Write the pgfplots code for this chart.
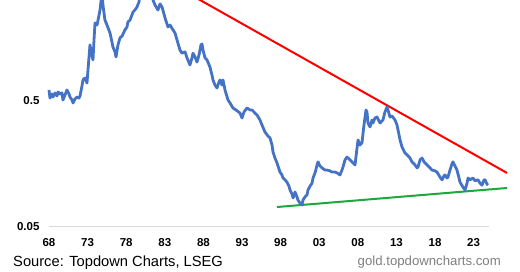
\documentclass[border=0pt]{standalone}
\usepackage{pgfplots}
\pgfplotsset{compat=1.18}
\usepackage{fontspec}
\setmainfont{Liberation Sans}
\definecolor{lineblue}{HTML}{4472C4}
\definecolor{linered}{HTML}{FF0000}
\definecolor{linegreen}{HTML}{1EA83C}
\definecolor{axgray}{HTML}{D9D9D9}
\definecolor{txtgray}{HTML}{7F7F7F}
\begin{document}
\begin{tikzpicture}
\useasboundingbox (0,0) rectangle (520pt,272pt);
\begin{axis}[
  at={(49pt,45.3pt)}, anchor=south west,
  scale only axis, width=471pt, height=226.7pt,
  xmin=1968, xmax=2029.01,
  ymode=log, ymin=0.05, ymax=3.18,
  clip=false,
  axis line style={draw=none},
  major tick length=0pt, minor tick length=0pt,
  yminorticks=false, xminorticks=false,
  tick style={draw=none},
  xtick pos=bottom, ytick pos=left,
  xtick={1968,1973,1978,1983,1988,1993,1998,2003,2008,2013,2018,2023},
  xticklabels={68,73,78,83,88,93,98,03,08,13,18,23},
  ytick={0.05,0.5},
  yticklabels={0.05,0.5},
  /pgf/number format/assume math mode=true,
  ticklabel style={font=\fontsize{11.5}{13}\selectfont\bfseries},
  xticklabel style={yshift=-8.5pt},
  yticklabel style={xshift=-6pt},
]
\addplot[color=axgray, line width=1.5pt, forget plot] coordinates {(1968,0.05) (2025,0.05)};
\addplot[color=linered, line width=2pt] coordinates {(1984.97,3.91) (2027.33,0.1338)};
\addplot[color=linegreen, line width=2pt] coordinates {(1997.53,0.0717) (2027.33,0.1016)};
\addplot[color=lineblue, line width=2.8pt, line join=round] table {
x y
1968.00 0.612
1968.13 0.528
1968.39 0.568
1968.52 0.538
1968.78 0.579
1969.04 0.548
1969.17 0.590
1969.42 0.568
1969.68 0.579
1969.81 0.509
1970.07 0.558
1970.33 0.612
1970.59 0.568
1970.72 0.538
1970.98 0.509
1971.11 0.482
1971.37 0.519
1971.63 0.538
1971.89 0.528
1972.02 0.548
1972.27 0.658
1972.40 0.735
1972.66 0.762
1972.92 0.695
1973.05 0.882
1973.31 1.40
1973.44 1.23
1973.70 1.06
1973.83 1.53
1973.96 2.09
1974.22 2.01
1974.35 2.20
1974.61 2.65
1974.87 3.68
1974.99 2.90
1975.25 2.20
1975.51 2.01
1975.90 1.74
1976.16 1.47
1976.29 1.34
1976.55 1.23
1976.68 1.12
1976.94 1.40
1977.20 1.59
1977.46 1.64
1977.84 1.84
1978.10 1.94
1978.23 2.13
1978.49 2.20
1978.75 2.42
1978.88 2.55
1979.14 2.65
1979.40 2.80
1979.66 3.07
1979.79 3.49
1980.44 4.59
1981.08 4.19
1981.47 3.18
1981.73 2.90
1982.12 2.65
1982.38 2.96
1982.64 2.80
1983.03 2.29
1983.41 1.94
1983.67 2.01
1984.06 1.84
1984.32 1.74
1984.58 1.53
1984.97 1.27
1985.23 1.20
1985.62 1.23
1985.88 1.10
1986.26 0.967
1986.52 1.10
1986.65 1.20
1986.91 1.12
1987.17 1.02
1987.43 1.16
1987.69 1.40
1987.82 1.42
1987.95 1.27
1988.21 1.10
1988.47 1.06
1988.85 0.932
1989.11 0.805
1989.24 0.735
1989.50 0.670
1989.76 0.634
1990.02 0.708
1990.15 0.735
1990.41 0.670
1990.54 0.735
1990.80 0.612
1991.19 0.509
1991.45 0.482
1991.83 0.440
1992.22 0.424
1992.74 0.401
1993.00 0.366
1993.26 0.409
1993.65 0.440
1994.04 0.424
1994.30 0.424
1994.68 0.401
1994.94 0.387
1995.33 0.353
1995.59 0.322
1995.98 0.283
1996.37 0.263
1996.63 0.254
1996.89 0.223
1997.02 0.196
1997.27 0.176
1997.53 0.161
1997.92 0.136
1998.18 0.129
1998.31 0.122
1998.57 0.118
1998.83 0.113
1999.09 0.105
1999.22 0.0979
1999.48 0.0910
1999.61 0.0846
1999.87 0.0944
2000.12 0.0862
2000.25 0.0815
2000.51 0.0772
2000.77 0.0744
2000.90 0.0815
2001.16 0.0862
2001.42 0.0894
2001.55 0.0979
2001.81 0.105
2002.07 0.111
2002.20 0.122
2002.46 0.134
2002.72 0.155
2002.85 0.164
2003.10 0.152
2003.36 0.147
2003.75 0.141
2004.01 0.141
2004.40 0.139
2004.66 0.136
2005.05 0.136
2005.31 0.134
2005.69 0.129
2005.95 0.141
2006.08 0.149
2006.34 0.170
2006.60 0.179
2006.99 0.170
2007.25 0.164
2007.64 0.155
2007.90 0.211
2008.03 0.245
2008.28 0.223
2008.54 0.232
2008.80 0.322
2009.06 0.424
2009.19 0.409
2009.32 0.334
2009.58 0.311
2009.84 0.353
2009.97 0.334
2010.23 0.366
2010.49 0.373
2010.75 0.347
2010.88 0.334
2011.26 0.353
2011.52 0.409
2011.78 0.448
2011.91 0.424
2012.17 0.373
2012.43 0.380
2012.82 0.353
2013.08 0.322
2013.21 0.294
2013.47 0.245
2013.73 0.215
2013.98 0.200
2014.11 0.193
2014.50 0.183
2014.76 0.176
2015.02 0.164
2015.41 0.155
2015.67 0.147
2015.80 0.149
2016.06 0.170
2016.32 0.176
2016.58 0.164
2016.96 0.155
2017.35 0.147
2017.61 0.141
2018.00 0.139
2018.26 0.136
2018.65 0.124
2018.91 0.118
2019.17 0.127
2019.30 0.129
2019.55 0.122
2019.68 0.124
2019.94 0.141
2020.20 0.158
2020.33 0.164
2020.59 0.152
2020.85 0.141
2021.11 0.122
2021.24 0.113
2021.63 0.103
2021.89 0.0979
2022.15 0.111
2022.28 0.122
2022.54 0.118
2022.92 0.122
2023.18 0.116
2023.57 0.118
2023.83 0.111
2024.09 0.107
2024.35 0.118
2024.48 0.118
2024.74 0.109
2024.87 0.107
};
\end{axis}
\node[anchor=base west, inner sep=0pt, font=\fontsize{14.7}{17}\selectfont] at (13pt,5pt) {Source: Topdown Charts, LSEG};
\node[anchor=base east, inner sep=0pt, text=txtgray, font=\fontsize{13.2}{15}\selectfont] at (501pt,6pt) {gold.topdowncharts.com};
\end{tikzpicture}
\end{document}
